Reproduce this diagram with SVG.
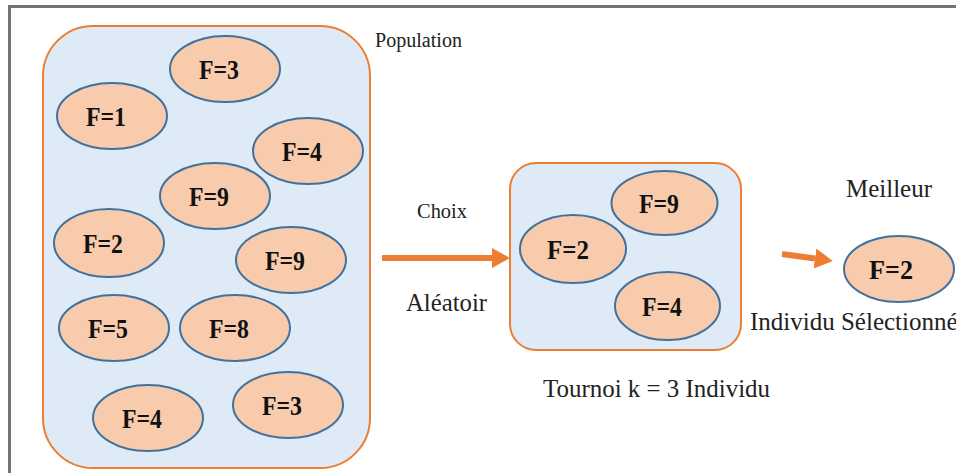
<svg xmlns="http://www.w3.org/2000/svg" width="956" height="473" viewBox="0 0 956 473">
  <style>
    .frame { fill: none; stroke: #747474; stroke-width: 3; }
    .box { fill: #DEEBF7; stroke: #ED7D31; stroke-width: 2; }
    .ind { fill: #F8CBAD; stroke: #41719C; stroke-width: 2; }
    .fv { font-family: "Liberation Serif", "Times New Roman", serif; font-weight: bold; font-size: 27px; fill: #111; text-anchor: middle; }
    .lbl { font-family: "Liberation Serif", "Times New Roman", serif; fill: #222; }
    .conn { stroke: #ED7D31; stroke-width: 6; fill: none; }
  </style>
  <defs>
    <marker id="head" markerUnits="userSpaceOnUse" markerWidth="19" markerHeight="22" refX="0" refY="10" orient="auto">
      <path d="M0,0 L18,10 L0,20 Z" fill="#ED7D31"/>
    </marker>
  </defs>

  <!-- page frame -->
  <path class="frame" d="M9.5,480 V6.5 H960"/>

  <!-- population container -->
  <g id="population">
    <rect class="box" x="43" y="26" width="327" height="442" rx="50" ry="50"/>
    <text class="lbl" x="375" y="47" style="font-size:20px" textLength="87" lengthAdjust="spacingAndGlyphs">Population</text>
  </g>

  <g id="p1"><ellipse class="ind" cx="225" cy="69" rx="55" ry="33"/><text class="fv" x="219" y="79" textLength="40" lengthAdjust="spacingAndGlyphs">F=3</text></g>
  <g id="p2"><ellipse class="ind" cx="112" cy="116" rx="55" ry="33"/><text class="fv" x="106" y="126" textLength="40" lengthAdjust="spacingAndGlyphs">F=1</text></g>
  <g id="p3"><ellipse class="ind" cx="308" cy="151" rx="55" ry="33"/><text class="fv" x="302" y="161" textLength="40" lengthAdjust="spacingAndGlyphs">F=4</text></g>
  <g id="p4"><ellipse class="ind" cx="215" cy="196" rx="55" ry="33"/><text class="fv" x="209" y="206" textLength="40" lengthAdjust="spacingAndGlyphs">F=9</text></g>
  <g id="p5"><ellipse class="ind" cx="109" cy="243" rx="55" ry="34"/><text class="fv" x="103" y="253" textLength="40" lengthAdjust="spacingAndGlyphs">F=2</text></g>
  <g id="p6"><ellipse class="ind" cx="291" cy="260" rx="55" ry="33"/><text class="fv" x="285" y="270" textLength="40" lengthAdjust="spacingAndGlyphs">F=9</text></g>
  <g id="p7"><ellipse class="ind" cx="114" cy="328" rx="55" ry="33"/><text class="fv" x="108" y="338" textLength="40" lengthAdjust="spacingAndGlyphs">F=5</text></g>
  <g id="p8"><ellipse class="ind" cx="235" cy="328" rx="55" ry="33"/><text class="fv" x="229" y="338" textLength="40" lengthAdjust="spacingAndGlyphs">F=8</text></g>
  <g id="p9"><ellipse class="ind" cx="148" cy="418" rx="55" ry="33"/><text class="fv" x="142" y="428" textLength="40" lengthAdjust="spacingAndGlyphs">F=4</text></g>
  <g id="p10"><ellipse class="ind" cx="288" cy="405" rx="55" ry="33"/><text class="fv" x="282" y="415" textLength="40" lengthAdjust="spacingAndGlyphs">F=3</text></g>

  <!-- tournament of k = 3 -->
  <g id="tournament">
    <rect class="box" x="510" y="163" width="231" height="187" rx="26" ry="26"/>
    <text class="lbl" x="543" y="397" style="font-size:25px" textLength="227" lengthAdjust="spacingAndGlyphs">Tournoi k = 3 Individu</text>
  </g>
  <g id="t1"><ellipse class="ind" cx="664.5" cy="203" rx="53" ry="32"/><text class="fv" x="659" y="213" textLength="40" lengthAdjust="spacingAndGlyphs">F=9</text></g>
  <g id="t2"><ellipse class="ind" cx="573" cy="249" rx="53" ry="34"/><text class="fv" x="568" y="259" textLength="42" lengthAdjust="spacingAndGlyphs">F=2</text></g>
  <g id="t3"><ellipse class="ind" cx="667.5" cy="306" rx="52.5" ry="34"/><text class="fv" x="662" y="316" textLength="40" lengthAdjust="spacingAndGlyphs">F=4</text></g>

  <!-- selected individual -->
  <g id="best">
    <ellipse class="ind" cx="899" cy="269" rx="55" ry="33"/>
    <text class="fv" x="891" y="279" textLength="44" lengthAdjust="spacingAndGlyphs">F=2</text>
    <text class="lbl" x="846" y="197" style="font-size:26px" textLength="86" lengthAdjust="spacingAndGlyphs">Meilleur</text>
    <text class="lbl" x="750" y="330" style="font-size:25px">Individu Sélectionné</text>
  </g>

  <!-- connectors -->
  <g id="connectors">
    <line class="conn" x1="382" y1="258" x2="492" y2="258" marker-end="url(#head)"/>
    <text class="lbl" x="417" y="218" style="font-size:21px" textLength="50" lengthAdjust="spacingAndGlyphs">Choix</text>
    <text class="lbl" x="406" y="311" style="font-size:25px" textLength="81" lengthAdjust="spacingAndGlyphs">Aléatoir</text>
    <line class="conn" x1="782" y1="254" x2="815" y2="258.5" marker-end="url(#head)"/>
  </g>
</svg>
